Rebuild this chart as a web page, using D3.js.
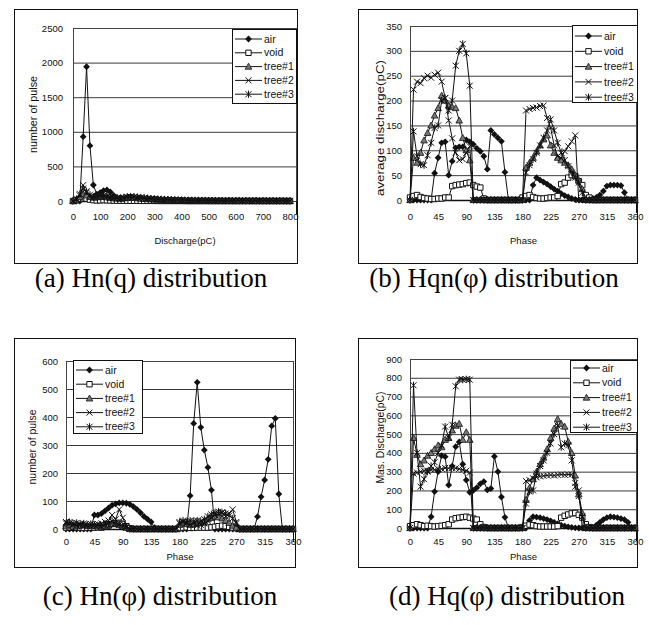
<!DOCTYPE html>
<html><head><meta charset="utf-8">
<script src="https://cdn.jsdelivr.net/npm/d3@7"></script>
<style>body{margin:0;background:#fff}svg{display:block}</style>
</head><body><svg id="c" width="649" height="625"></svg>
<script>
// ---------- categories ----------
const dischargeBins = [0,12.5,25,37.5,50,62.5,75,87.5,100,112.5,125,137.5,150,162.5,175,187.5,200,212.5,225,237.5,250,262.5,275,287.5,300,312.5,325,337.5,350,362.5,375,387.5,400,412.5,425,437.5,450,462.5,475,487.5,500,512.5,525,537.5,550,562.5,575,587.5,600,612.5,625,637.5,650,662.5,675,687.5,700,712.5,725,737.5,750,762.5,775,787.5,800];
const phaseBins = [0,5.625,11.25,16.875,22.5,28.125,33.75,39.375,45,50.625,56.25,61.875,67.5,73.125,78.75,84.375,90,95.625,101.25,106.875,112.5,118.125,123.75,129.375,135,140.625,146.25,151.875,157.5,163.125,168.75,174.375,180,185.625,191.25,196.875,202.5,208.125,213.75,219.375,225,230.625,236.25,241.875,247.5,253.125,258.75,264.375,270,275.625,281.25,286.875,292.5,298.125,303.75,309.375,315,320.625,326.25,331.875,337.5,343.125,348.75,354.375,360];
const legendLabels = ['air','void','tree#1','tree#2','tree#3'];

// ---------- tick labels ----------
const xTicksDischarge = [0,100,200,300,400,500,600,700,800];
const xTicksPhase = [0,45,90,135,180,225,270,315,360];
const yTicksA = [0,500,1000,1500,2000,2500];
const yTicksB = [0,50,100,150,200,250,300,350];
const yTicksC = [0,100,200,300,400,500,600];
const yTicksD = [0,100,200,300,400,500,600,700,800,900];

// ---------- (a) Hn(q) ----------
const airA = [0,0,0,930,1940,800,231,100,120,150,160,130,80,
 50,35,25,20,15,12,10,8,6,5,5,4,3,
 3,2,2,2,1,1,1,1,0,0,0,0,0,
 0,0,0,0,0,0,0,0,0,0,0,0,0,
 0,0,0,0,0,0,0,0,0,0,0,0,0];
const voidA = [0,10,30,40,35,20,12,8,10,12,10,8,6,
 5,5,4,4,3,3,3,2,2,2,2,2,1,
 1,1,1,1,1,1,1,0,0,0,0,0,0,
 0,0,0,0,0,0,0,0,0,0,0,0,0,
 0,0,0,0,0,0,0,0,0,0,0,0,0];
const tree1A = [0,20,60,100,80,60,50,55,60,65,55,45,40,
 38,35,40,45,48,45,40,35,30,28,25,22,20,
 18,16,15,14,12,11,10,9,8,8,7,6,6,
 5,5,5,4,4,4,3,3,3,3,2,2,2,
 2,2,2,1,1,1,1,1,1,1,1,1,0];
const tree2A = [0,20,80,230,120,60,50,60,70,75,60,50,45,
 40,38,45,55,60,55,50,45,40,35,30,28,25,
 22,20,18,16,15,14,12,11,10,10,9,8,8,
 7,7,6,6,5,5,5,4,4,4,4,3,3,
 3,3,3,2,2,2,2,2,2,2,1,1,1];
const tree3A = [0,30,100,180,140,90,60,70,80,75,65,55,50,
 45,40,50,60,65,60,55,50,45,40,35,30,28,
 25,22,20,18,16,15,13,12,11,10,9,9,8,
 8,7,7,6,6,5,5,5,4,4,4,4,3,
 3,3,3,3,2,2,2,2,2,2,2,1,1];

// ---------- (b) Hqn(phi) ----------
const airB = [0,0,0,0,0,0,0,54,85,115,117,50,78,
 105,107,107,121,117,112,104,98,88,62,140,132,125,
 118,56,0,0,0,0,0,0,0,30,45,40,36,
 32,27,22,18,13,9,6,3,1,0,0,0,0,
 3,5,10,18,28,30,30,30,29,15,0,0,0];
const voidB = [5,8,10,6,4,3,2,2,3,3,5,5,28,
 30,31,32,34,35,30,27,25,3,0,0,0,0,
 0,0,0,0,0,0,5,8,10,6,4,3,3,
 4,5,5,8,32,35,45,50,48,38,30,10,5,
 0,0,0,0,0,0,0,0,0,0,0,0,0];
const tree1B = [0,85,75,95,120,135,150,170,185,210,200,190,187,
 185,160,125,100,80,0,0,0,0,0,0,0,0,
 0,0,0,0,0,0,0,65,75,85,98,110,122,
 130,110,95,85,80,75,70,62,50,40,22,0,0,
 0,0,0,0,0,0,0,0,0,0,0,0,0];
const tree2B = [0,222,238,235,245,250,246,252,256,238,205,160,124,
 95,80,82,95,108,0,0,0,0,0,0,0,0,
 0,0,0,0,0,0,0,180,183,185,186,189,190,
 165,145,110,88,84,98,108,118,130,0,0,0,0,
 0,0,0,0,0,0,0,0,0,0,0,0,0];
const tree3B = [0,138,88,72,70,90,115,145,150,200,205,180,200,
 270,300,314,295,230,0,0,0,0,0,0,0,0,
 0,0,0,0,0,0,0,55,70,82,95,110,125,
 140,162,140,115,95,80,68,55,45,35,15,0,0,
 0,0,0,0,0,0,0,0,0,0,0,0,0];

// ---------- (c) Hn(phi) ----------
const airC = [0,0,0,0,0,0,0,0,50,50,55,65,75,
 85,90,93,93,92,88,80,70,58,45,35,25,5,
 0,0,0,0,0,0,0,0,0,119,377,524,363,
 282,220,139,0,0,0,0,0,0,0,0,0,0,
 0,0,44,115,175,249,368,395,125,0,0,0,0];
const voidC = [5,6,8,6,5,4,5,4,5,6,5,8,12,
 18,20,22,18,10,3,0,0,0,0,0,0,0,
 0,0,0,0,0,0,3,5,6,4,4,5,5,
 5,5,6,8,10,12,10,8,5,3,0,0,0,
 0,0,0,0,0,0,0,0,0,0,0,0,0];
const tree1C = [10,15,12,10,12,15,12,10,12,10,8,10,15,
 18,20,15,10,5,0,0,0,0,0,0,0,0,
 0,0,0,0,0,0,15,20,18,15,18,20,22,
 28,35,40,45,42,38,30,22,12,5,0,0,0,
 0,0,0,0,0,0,0,0,0,0,0,0,0];
const tree2C = [25,20,15,12,15,12,10,12,15,18,20,25,30,
 50,35,70,40,10,0,0,0,0,0,0,0,0,
 0,0,0,0,0,0,20,25,20,15,20,12,15,
 20,28,40,50,55,60,45,55,70,25,0,0,0,
 0,0,0,0,0,0,0,0,0,0,0,0,0];
const tree3C = [20,25,20,22,18,20,15,18,15,12,10,15,20,
 28,20,15,10,5,0,0,0,0,0,0,0,0,
 0,0,0,0,0,0,25,30,25,30,28,30,28,
 35,45,52,58,62,58,55,48,38,20,0,0,0,
 0,0,0,0,0,0,0,0,0,0,0,0,0];

// ---------- (d) Hq(phi) ----------
const airD = [0,0,0,0,0,0,60,194,300,385,380,229,330,
 433,458,340,255,190,200,215,235,247,203,210,381,300,
 165,57,0,0,0,0,0,0,40,60,58,55,50,
 45,38,30,22,15,10,6,3,1,0,0,0,0,
 0,15,30,45,55,60,58,55,50,45,30,0,0];
const voidD = [10,15,20,15,10,12,10,8,10,12,15,20,45,
 52,55,58,60,55,50,45,20,5,0,0,0,0,
 0,0,0,0,0,0,5,12,18,15,10,8,8,
 8,8,8,10,55,65,72,78,80,70,55,20,5,
 0,0,0,0,0,0,0,0,0,0,0,0,0];
const tree1D = [0,480,390,340,360,385,400,420,440,430,470,480,520,
 545,555,470,510,470,0,0,0,0,0,0,0,0,
 0,0,0,0,0,0,0,150,215,260,300,340,375,
 420,480,530,580,555,540,460,400,280,180,80,0,0,
 0,0,0,0,0,0,0,0,0,0,0,0,0];
const tree2D = [0,290,295,300,305,305,310,310,315,315,320,318,320,
 318,315,310,305,295,0,0,0,0,0,0,0,0,
 0,0,0,0,0,0,0,250,255,265,270,275,278,
 280,282,280,283,285,283,285,285,240,200,0,0,0,
 0,0,0,0,0,0,0,0,0,0,0,0,0];
const tree3D = [0,760,400,220,260,300,330,350,400,440,540,480,550,
 755,790,790,792,790,0,0,0,0,0,0,0,0,
 0,0,0,0,0,0,0,130,195,200,290,330,360,
 400,450,500,545,430,450,440,360,220,170,60,0,0,
 0,0,0,0,0,0,0,0,0,0,0,0,0];

// ---------- drawing ----------
const svg = d3.select('#c');
svg.append('rect').attr('width',649).attr('height',625).attr('fill','#fff');
const SANS = "'Liberation Sans', Arial, sans-serif";
const SERIF = "'Liberation Serif', 'Times New Roman', serif";
const INK = '#111';

const markers = [
  {d:'M0,-3.4L3.4,0L0,3.4L-3.4,0Z', fill:INK, stroke:'none', sw:0},
  {d:'M-2.7,-2.7H2.7V2.7H-2.7Z', fill:'#fff', stroke:INK, sw:1},
  {d:'M0,-3.4L3.3,2.6L-3.3,2.6Z', fill:'#777', stroke:INK, sw:0.8},
  {d:'M-3,-3L3,3M-3,3L3,-3', fill:'none', stroke:INK, sw:1},
  {d:'M-3,-3L3,3M-3,3L3,-3M0,-3.6L0,3.6', fill:'none', stroke:INK, sw:1}
];

function panel(p){
  const g = svg.append('g');
  const [px0,py0,px1,py1] = p.plot;
  const x = d3.scaleLinear().domain([p.xs[0], p.xs[p.xs.length-1]]).range(p.xRange);
  const y = d3.scaleLinear().domain([0, p.yTicks[p.yTicks.length-1]]).range([py1, py0]);

  g.append('rect').attr('x',p.box[0]+0.5).attr('y',p.box[1]+0.5)
    .attr('width',p.box[2]-p.box[0]).attr('height',p.box[3]-p.box[1])
    .attr('fill','none').attr('stroke',INK).attr('stroke-width',1);

  g.append('g').attr('transform',`translate(${px0},0)`)
    .call(d3.axisLeft(y).tickValues(p.yTicks.filter(v=>v>0)).tickSize(-(px1-px0)).tickFormat(''))
    .call(a=>{a.select('.domain').remove(); a.selectAll('line').attr('stroke','#3a3a3a').attr('stroke-width',1);});
  g.append('rect').attr('x',px0+0.5).attr('y',py0+0.5).attr('width',px1-px0-1).attr('height',py1-py0)
    .attr('fill','none').attr('stroke','#444').attr('stroke-width',1);

  g.append('g').attr('transform',`translate(${px0},0)`)
    .call(d3.axisLeft(y).tickValues(p.yTicks).tickSize(0).tickPadding(px0-p.yTickRight).tickFormat(d3.format('d')))
    .attr('font-family',SANS).attr('font-size',9.5)
    .call(a=>{a.select('.domain').remove(); a.selectAll('text').attr('fill',INK);});

  g.append('g').attr('transform',`translate(0,${py1})`)
    .call(d3.axisBottom(x).tickValues(p.xTicks).tickSize(0).tickPadding(p.xLabelPad).tickFormat(d3.format('d')))
    .attr('font-family',SANS).attr('font-size',9.5)
    .call(a=>{a.select('.domain').attr('stroke',INK).attr('stroke-width',1.5); a.selectAll('text').attr('fill',INK);});
  g.append('line').attr('x1',px1-0.5).attr('x2',px1-0.5).attr('y1',py1).attr('y2',py1+13)
    .attr('stroke',INK).attr('stroke-width',1);

  const line = d3.line().x((d,i)=>x(p.xs[i])).y(d=>y(d));
  p.series.forEach((vals,k)=>{
    const sg = g.append('g');
    sg.append('path').attr('d',line(vals)).attr('fill','none').attr('stroke',INK).attr('stroke-width',1);
    const m = markers[k];
    sg.selectAll('path.m').data(vals).join('path').attr('class','m')
      .attr('transform',(d,i)=>`translate(${x(p.xs[i])},${y(d)})`)
      .attr('d',m.d).attr('fill',m.fill).attr('stroke',m.stroke).attr('stroke-width',m.sw);
  });

  const L = p.legend;
  const lg = g.append('g');
  lg.append('rect').attr('x',L.x+0.5).attr('y',L.y+0.5).attr('width',L.w).attr('height',L.h)
    .attr('fill','#fff').attr('stroke',INK).attr('stroke-width',1);
  legendLabels.forEach((name,k)=>{
    const ry = L.y + L.first + k*L.step;
    lg.append('line').attr('x1',L.x+3).attr('x2',L.x+30).attr('y1',ry).attr('y2',ry)
      .attr('stroke',INK).attr('stroke-width',1);
    const m = markers[k];
    lg.append('path').attr('transform',`translate(${L.x+16.5},${ry})`).attr('d',m.d)
      .attr('fill',m.fill).attr('stroke',m.stroke).attr('stroke-width',m.sw);
    lg.append('text').attr('x',L.x+32).attr('y',ry).attr('dy','0.35em')
      .attr('font-family',SANS).attr('font-size',10.5).attr('fill',INK).text(name);
  });

  g.append('text').attr('transform',`translate(${p.yTitleX},${(py0+py1)/2 + p.yTitleShift}) rotate(-90)`)
    .attr('text-anchor','middle').attr('dy','0.35em')
    .attr('font-family',SANS).attr('font-size',10).attr('fill',INK)
    .attr('textLength',p.yTitleLen).attr('lengthAdjust','spacingAndGlyphs').text(p.yTitle);
  g.append('text').attr('x',(px0+px1)/2).attr('y',p.xTitleY).attr('dy','0.35em')
    .attr('text-anchor','middle').attr('font-family',SANS).attr('font-size',9.5).attr('fill',INK).text(p.xTitle);

  g.append('text').attr('x',p.capX).attr('y',p.capY).attr('text-anchor','middle')
    .attr('font-family',SERIF).attr('font-size',27).attr('fill','#000').text(p.caption);
}

panel({box:[14,9,297,263], plot:[73,28,297,201], xs:dischargeBins, xRange:[73,290],
  xTicks:xTicksDischarge, yTicks:yTicksA, yTickRight:63, xLabelPad:12,
  series:[airA,voidA,tree1A,tree2A,tree3A],
  legend:{x:232,y:29,w:64,h:74,first:10,step:13.8},
  yTitle:'number of pulse', yTitleX:33, yTitleShift:0, yTitleLen:77,
  xTitle:'Discharge(pC)', xTitleY:241, caption:'(a) Hn(q) distribution', capX:151, capY:287});

panel({box:[358,9,637,263], plot:[410,26,637,200], xs:phaseBins, xRange:[410,635],
  xTicks:xTicksPhase, yTicks:yTicksB, yTickRight:402, xLabelPad:13,
  series:[airB,voidB,tree1B,tree2B,tree3B],
  legend:{x:572,y:25,w:65,h:77,first:11,step:15.3},
  yTitle:'average discharge(pC)', yTitleX:380, yTitleShift:15, yTitleLen:136,
  xTitle:'Phase', xTitleY:241, caption:'(b) Hqn(φ) distribution', capX:494, capY:287});

panel({box:[14,338,295,567], plot:[66,361,294,529], xs:phaseBins, xRange:[66,293],
  xTicks:xTicksPhase, yTicks:yTicksC, yTickRight:58, xLabelPad:9,
  series:[airC,voidC,tree1C,tree2C,tree3C],
  legend:{x:73,y:360,w:69,h:73,first:10,step:14.2},
  yTitle:'number of pulse', yTitleX:32, yTitleShift:2, yTitleLen:75,
  xTitle:'Phase', xTitleY:557, caption:'(c) Hn(φ) distribution', capX:160, capY:605});

panel({box:[358,338,637,567], plot:[410,359,637,528], xs:phaseBins, xRange:[410,635],
  xTicks:xTicksPhase, yTicks:yTicksD, yTickRight:402, xLabelPad:10,
  series:[airD,voidD,tree1D,tree2D,tree3D],
  legend:{x:570,y:360,w:67,h:72,first:8,step:14.8},
  yTitle:'Mas. Discharge(pC)', yTitleX:380, yTitleShift:-6, yTitleLen:92,
  xTitle:'Phase', xTitleY:557, caption:'(d) Hq(φ) distribution', capX:507, capY:605});
</script>
</body></html>
